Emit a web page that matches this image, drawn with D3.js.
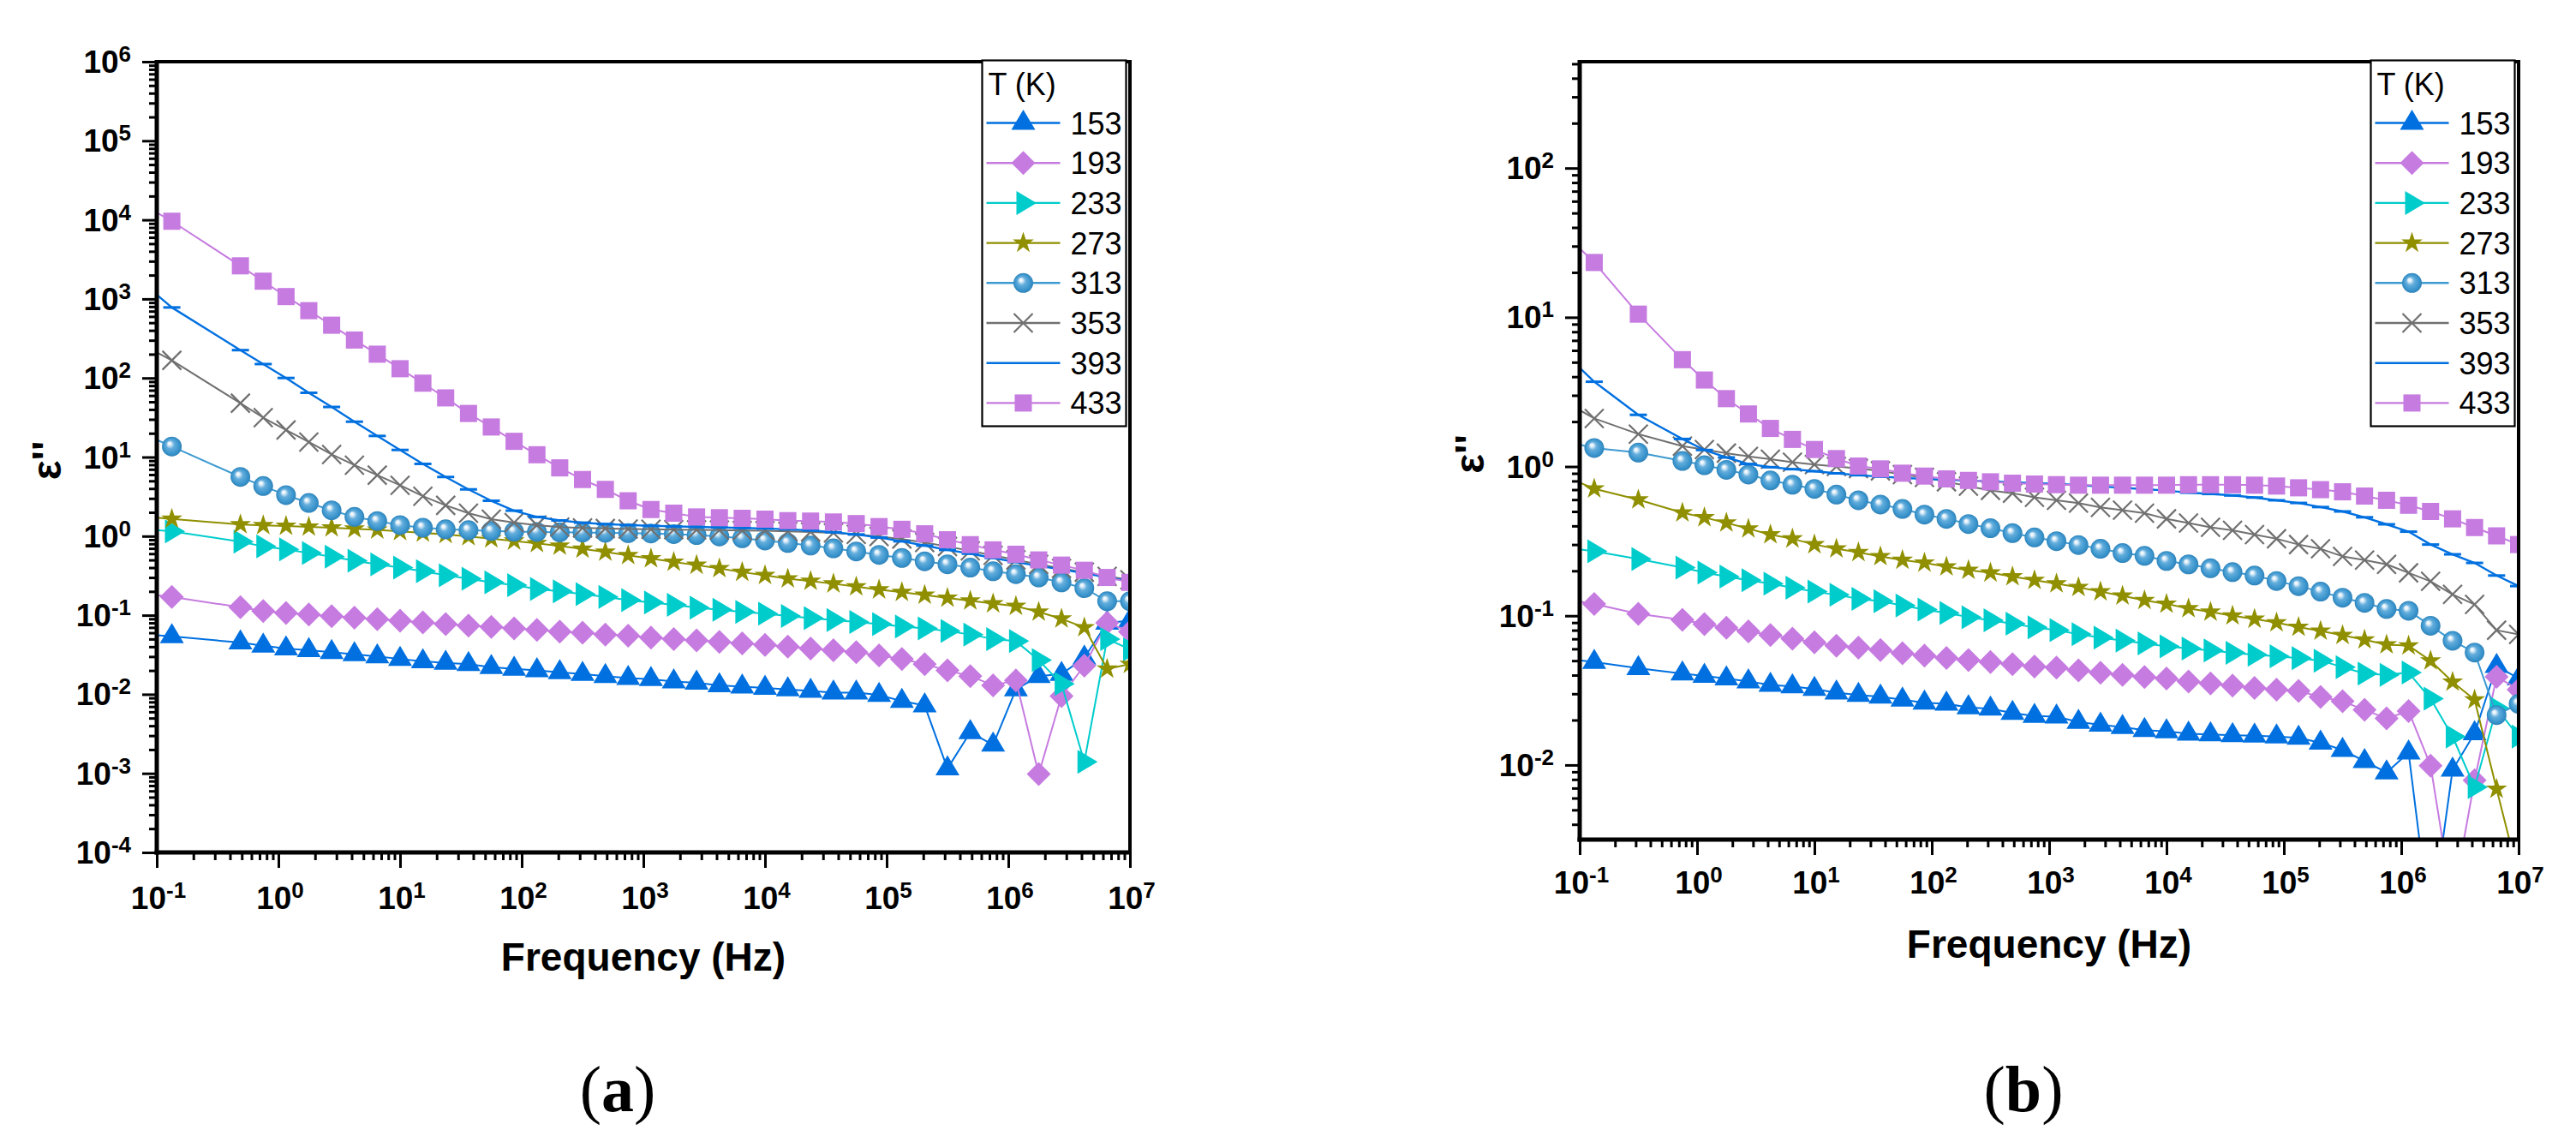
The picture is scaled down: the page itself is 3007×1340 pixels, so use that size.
<!DOCTYPE html>
<html><head><meta charset="utf-8">
<script src="https://cdn.jsdelivr.net/npm/d3@7"></script>
<style>html,body{margin:0;padding:0;background:#fff;} svg{display:block;}</style>
</head><body>
<svg id="chart" width="3007" height="1340"></svg>
<script>
// ---------- data ----------
const temps = ["153","193","233","273","313","353","393","433"];
const colors = ["#0070e0","#c67be0","#00cccc","#8f8f00","#3d9ad1","#707070","#0070e0","#c67be0"];
const symbols = ["triUp","diamond","triRight","star","sphere","cross","dash","square"];

const freqA = [0.07,0.133,0.487,0.75,1.155,1.778,2.738,4.217,6.494,10,15.4,23.71,36.52,56.23,86.6,133.4,205.4,316.2,487,750,1155,1778,2738,4217,6494,1e4,1.54e4,2.371e4,3.652e4,5.623e4,8.66e4,1.334e5,2.054e5,3.162e5,4.87e5,7.499e5,1.155e6,1.778e6,2.738e6,4.217e6,6.494e6,1e7];
const freqB = [0.07,0.133,0.316,0.75,1.155,1.778,2.738,4.217,6.494,10,15.4,23.71,36.52,56.23,86.6,133.4,205.4,316.2,487,750,1155,1778,2738,4217,6494,1e4,1.54e4,2.371e4,3.652e4,5.623e4,8.66e4,1.334e5,2.054e5,3.162e5,4.87e5,7.499e5,1.155e6,1.778e6,2.738e6,4.217e6,6.494e6,1e7];

const a153 = [0.058,0.054,0.045,0.041,0.038,0.036,0.034,0.032,0.030,0.028,0.026,0.025,0.024,0.022,0.021,0.020,0.019,0.018,0.017,0.016,0.0155,0.0145,0.014,0.013,0.0125,0.012,0.0115,0.011,0.0105,0.0105,0.0098,0.0082,0.0072,0.00115,0.0033,0.0023,0.0115,0.017,0.018,0.029,0.08,0.085];
const a193 = [0.19,0.17,0.126,0.113,0.107,0.102,0.097,0.093,0.089,0.085,0.081,0.077,0.074,0.071,0.068,0.065,0.062,0.060,0.057,0.055,0.052,0.050,0.048,0.046,0.044,0.042,0.040,0.038,0.036,0.034,0.031,0.028,0.024,0.020,0.017,0.013,0.015,0.00098,0.0095,0.023,0.08,0.062];
const a233 = [1.25,1.15,0.85,0.74,0.68,0.61,0.55,0.49,0.44,0.40,0.36,0.32,0.29,0.26,0.24,0.215,0.20,0.185,0.17,0.155,0.145,0.135,0.125,0.117,0.11,0.105,0.098,0.092,0.087,0.082,0.077,0.072,0.068,0.063,0.057,0.05,0.047,0.027,0.0135,0.0014,0.05,0.037];
const a273 = [1.8,1.65,1.4,1.37,1.34,1.31,1.28,1.24,1.2,1.15,1.1,1.05,0.99,0.93,0.87,0.81,0.75,0.69,0.63,0.57,0.52,0.47,0.43,0.39,0.35,0.32,0.29,0.27,0.25,0.23,0.21,0.195,0.18,0.165,0.152,0.14,0.13,0.11,0.09,0.07,0.021,0.024];
const a313 = [21,13.6,5.6,4.3,3.3,2.63,2.12,1.75,1.55,1.38,1.28,1.22,1.19,1.16,1.14,1.13,1.12,1.11,1.10,1.09,1.08,1.06,1.03,0.99,0.94,0.88,0.82,0.76,0.70,0.64,0.58,0.53,0.48,0.44,0.40,0.36,0.33,0.30,0.26,0.22,0.15,0.15];
const a353 = [280,167,48,31.5,22,15.5,10.8,7.9,5.9,4.4,3.2,2.45,1.95,1.64,1.48,1.38,1.3,1.27,1.25,1.23,1.22,1.21,1.2,1.19,1.18,1.17,1.15,1.13,1.1,1.05,0.99,0.92,0.83,0.74,0.65,0.57,0.5,0.44,0.39,0.35,0.31,0.28];
const a393 = [1800,780,225,150,100,65,43,28,18.5,12.3,8.2,5.6,3.9,2.8,2.1,1.75,1.58,1.48,1.42,1.38,1.35,1.33,1.31,1.29,1.27,1.25,1.22,1.18,1.12,1.05,0.96,0.86,0.76,0.67,0.6,0.53,0.47,0.42,0.38,0.34,0.3,0.27];
const a433 = [17000,9600,2620,1675,1070,710,465,302,200,131,86,56,35.6,24,15.8,10.7,7.3,5.2,3.9,2.8,2.17,1.95,1.75,1.71,1.68,1.64,1.57,1.55,1.51,1.44,1.32,1.22,1.07,0.90,0.78,0.67,0.59,0.50,0.43,0.37,0.30,0.26];

const b153 = [0.052,0.049,0.0445,0.041,0.0395,0.038,0.0363,0.0344,0.0336,0.0323,0.0305,0.0294,0.0287,0.0274,0.0261,0.0257,0.0243,0.0238,0.0223,0.0213,0.0211,0.0194,0.0186,0.0179,0.0171,0.0168,0.0162,0.016,0.0158,0.0157,0.0155,0.0152,0.0141,0.0126,0.0106,0.0089,0.0121,0.0008,0.0093,0.0163,0.046,0.038];
const b193 = [0.13,0.12,0.103,0.094,0.088,0.083,0.0785,0.0742,0.0703,0.0664,0.063,0.0611,0.059,0.056,0.054,0.0521,0.0505,0.049,0.0473,0.0457,0.0449,0.043,0.0415,0.0401,0.0388,0.038,0.0363,0.0352,0.034,0.0328,0.032,0.0313,0.0286,0.0267,0.0234,0.0205,0.023,0.0099,0.0012,0.0079,0.039,0.032];
const b233 = [0.29,0.27,0.24,0.21,0.195,0.183,0.173,0.164,0.154,0.145,0.138,0.13,0.125,0.117,0.11,0.1045,0.0978,0.0933,0.0885,0.0835,0.08,0.0752,0.0713,0.0682,0.0653,0.0624,0.0603,0.0585,0.0565,0.0548,0.0535,0.052,0.05,0.0453,0.041,0.0402,0.0416,0.0278,0.0155,0.0071,0.024,0.0155];
const b273 = [0.88,0.71,0.6,0.49,0.455,0.42,0.383,0.35,0.328,0.3,0.281,0.266,0.25,0.236,0.226,0.213,0.202,0.194,0.183,0.173,0.164,0.155,0.145,0.136,0.127,0.12,0.112,0.106,0.1,0.095,0.09,0.084,0.079,0.074,0.069,0.064,0.063,0.05,0.036,0.0274,0.0069,0.0018];
const b313 = [1.5,1.33,1.24,1.09,1.02,0.95,0.883,0.807,0.755,0.708,0.648,0.594,0.556,0.52,0.476,0.446,0.412,0.386,0.358,0.335,0.316,0.298,0.281,0.263,0.252,0.233,0.221,0.208,0.196,0.186,0.171,0.158,0.145,0.132,0.122,0.111,0.108,0.0857,0.068,0.0567,0.0216,0.0257];
const b353 = [2.8,2.1,1.65,1.37,1.3,1.23,1.17,1.12,1.07,1.03,1.0,0.97,0.935,0.883,0.845,0.79,0.739,0.692,0.663,0.621,0.594,0.569,0.532,0.51,0.487,0.446,0.418,0.391,0.374,0.35,0.328,0.3,0.281,0.25,0.236,0.221,0.194,0.17,0.139,0.119,0.08,0.075];
const b393 = [6.0,3.7,2.22,1.53,1.29,1.15,1.04,0.99,0.96,0.93,0.9,0.875,0.855,0.84,0.825,0.815,0.805,0.795,0.785,0.775,0.765,0.75,0.735,0.72,0.705,0.69,0.668,0.655,0.64,0.62,0.594,0.57,0.535,0.5,0.457,0.41,0.366,0.30,0.258,0.226,0.186,0.158];
const b433 = [38,23.3,10.5,5.2,3.8,2.85,2.25,1.8,1.52,1.3,1.13,1.007,0.964,0.902,0.863,0.826,0.807,0.79,0.773,0.763,0.756,0.75,0.75,0.75,0.75,0.75,0.755,0.755,0.755,0.75,0.74,0.72,0.70,0.677,0.634,0.594,0.55,0.50,0.446,0.39,0.343,0.30];

const xTickExps = [-1,0,1,2,3,4,5,6,7];
const yTickExpsA = [-4,-3,-2,-1,0,1,2,3,4,5,6];
const yTickExpsB = [-2,-1,0,1,2];
const xTitle = "Frequency (Hz)";
const yTitle = "\u03b5''";
const legendTitle = "T (K)";
const captions = ["a","b"];

// ---------- drawing ----------
const svg = d3.select("#chart");
svg.append("rect").attr("width",3007).attr("height",1340).attr("fill","#fff");
const defs = svg.append("defs");
const grad = defs.append("radialGradient").attr("id","sphereGrad")
  .attr("cx","0.5").attr("cy","0.5").attr("r","0.5").attr("fx","0.36").attr("fy","0.33");
[[0,"#ffffff"],[0.16,"#e4f1fa"],[0.42,"#63addc"],[0.8,"#3a95cd"],[1,"#2f82b8"]].forEach(s=>
  grad.append("stop").attr("offset",s[0]).attr("stop-color",s[1]));

const SANS = "'Liberation Sans', Arial, sans-serif";

function drawSymbol(g, type, color) {
  switch (type) {
    case "triUp": g.append("path").attr("d","M0,-15.5L14,8L-14,8Z").attr("fill",color); break;
    case "diamond": g.append("path").attr("d","M0,-14L14,0L0,14L-14,0Z").attr("fill",color); break;
    case "triRight": g.append("path").attr("d","M-8,-14L15.5,0L-8,14Z").attr("fill",color); break;
    case "star": g.append("path").attr("d", d3.symbol(d3.symbolStar, 190)()).attr("fill",color); break;
    case "sphere": g.append("circle").attr("r",11.5).attr("fill","url(#sphereGrad)"); break;
    case "cross": g.append("path").attr("d","M-11,-11L11,11M-11,11L11,-11").attr("stroke",color).attr("stroke-width",2.2).attr("fill","none"); break;
    case "dash": g.append("path").attr("d","M-10,0H10").attr("stroke",color).attr("stroke-width",3); break;
    case "square": g.append("rect").attr("x",-10).attr("y",-10).attr("width",20).attr("height",20).attr("fill",color); break;
  }
}

function supLabel(sel, e) {
  sel.append("tspan").text("10");
  sel.append("tspan").attr("dy",-13).attr("font-size",26).text(String(e));
}

function makePanel(cfg) {
  const x = d3.scaleLog().domain([0.1,1e7]).range([cfg.left,cfg.right]);
  const y = d3.scaleLog().domain(cfg.yDomain).range([cfg.bottom,cfg.top]);
  const g = svg.append("g");
  const clipId = "clip" + cfg.id;
  defs.append("clipPath").attr("id",clipId).append("rect")
    .attr("x",cfg.left).attr("y",cfg.top).attr("width",cfg.right-cfg.left).attr("height",cfg.bottom-cfg.top);
  const plot = g.append("g").attr("clip-path",`url(#${clipId})`);
  const line = d3.line().x(d=>x(d[0])).y(d=>y(d[1]));

  cfg.series.forEach((vals,i)=>{
    const pts = cfg.freq.map((f,j)=>[f, vals[j]]);
    const sg = plot.append("g");
    sg.append("path").datum(pts).attr("d",line).attr("fill","none")
      .attr("stroke",colors[i]).attr("stroke-width", i===6 ? 2.4 : 2).attr("stroke-linejoin","round");
    sg.selectAll("g.m").data(pts).join("g").attr("class","m")
      .attr("transform",d=>`translate(${x(d[0])},${y(d[1])})`)
      .each(function(){ drawSymbol(d3.select(this), symbols[i], colors[i]); });
  });

  // minor / major ticks
  const minorX = [];
  for (let e=-1;e<7;e++) for (let k=2;k<10;k++) minorX.push(k*Math.pow(10,e));
  const [y0,y1] = cfg.yDomain;
  const minorY = [];
  for (let e=Math.floor(Math.log10(y0)); e<Math.ceil(Math.log10(y1)); e++)
    for (let k=2;k<10;k++){ const v=k*Math.pow(10,e); if (v>=y0 && v<=y1) minorY.push(v); }

  const styleAxis = s => { s.select(".domain").remove(); s.selectAll("line").attr("stroke","#000").attr("stroke-width",3); };
  g.append("g").attr("transform",`translate(0,${cfg.bottom})`)
    .call(d3.axisBottom(x).tickValues(minorX).tickSize(9).tickFormat("")).call(styleAxis);
  g.append("g").attr("transform",`translate(0,${cfg.bottom})`)
    .call(d3.axisBottom(x).tickValues(xTickExps.map(e=>Math.pow(10,e))).tickSize(18).tickFormat("")).call(styleAxis);
  g.append("g").attr("transform",`translate(${cfg.left},0)`)
    .call(d3.axisLeft(y).tickValues(minorY).tickSize(9).tickFormat("")).call(styleAxis);
  g.append("g").attr("transform",`translate(${cfg.left},0)`)
    .call(d3.axisLeft(y).tickValues(cfg.yExps.map(e=>Math.pow(10,e))).tickSize(17).tickFormat("")).call(styleAxis);

  // frame
  g.append("line").attr("x1",cfg.left).attr("x2",cfg.right).attr("y1",cfg.top).attr("y2",cfg.top).attr("stroke","#000").attr("stroke-width",4);
  g.append("line").attr("x1",cfg.right).attr("x2",cfg.right).attr("y1",cfg.top-2).attr("y2",cfg.bottom+2).attr("stroke","#000").attr("stroke-width",4);
  g.append("line").attr("x1",cfg.left-2.5).attr("x2",cfg.right+2).attr("y1",cfg.bottom).attr("y2",cfg.bottom).attr("stroke","#000").attr("stroke-width",5);
  g.append("line").attr("x1",cfg.left).attr("x2",cfg.left).attr("y1",cfg.top-2).attr("y2",cfg.bottom+2.5).attr("stroke","#000").attr("stroke-width",5);

  // tick labels
  g.selectAll("text.xl").data(xTickExps).join("text").attr("class","xl")
    .attr("x",e=>x(Math.pow(10,e))+2).attr("y",cfg.bottom+cfg.xLabOff)
    .attr("text-anchor","middle").attr("font-family",SANS).attr("font-weight","bold").attr("font-size",37)
    .each(function(e){ supLabel(d3.select(this), e); });
  g.selectAll("text.yl").data(cfg.yExps).join("text").attr("class","yl")
    .attr("x",cfg.left-30).attr("y",e=>y(Math.pow(10,e))+13)
    .attr("text-anchor","end").attr("font-family",SANS).attr("font-weight","bold").attr("font-size",37)
    .each(function(e){ supLabel(d3.select(this), e); });

  // axis titles
  const cx = (cfg.left+cfg.right)/2;
  g.append("text").attr("x",cx).attr("y",cfg.bottom+138).attr("text-anchor","middle")
    .attr("font-family",SANS).attr("font-weight","bold").attr("font-size",46).text(xTitle);
  g.append("text").attr("transform",`translate(${cfg.left-112},${(cfg.top+cfg.bottom)/2+4}) rotate(-90)`)
    .attr("text-anchor","middle").attr("font-family",SANS).attr("font-weight","bold").attr("font-size",48).text(yTitle);

  // caption
  const cap = g.append("text").attr("x",cx-30).attr("y",1297).attr("text-anchor","middle")
    .attr("font-family","'Palatino Linotype','Book Antiqua',Palatino,'Liberation Serif','DejaVu Serif',serif").attr("font-size",76);
  cap.append("tspan").text("(");
  cap.append("tspan").attr("font-weight","bold").text(cfg.caption);
  cap.append("tspan").text(")");

  // legend
  const lw = 168, lx = cfg.right-4.5-lw, ly = cfg.top-1.5, rowH = 46.7;
  const lg = g.append("g").attr("transform",`translate(${lx},${ly})`);
  lg.append("rect").attr("width",lw).attr("height",427).attr("fill","#fff").attr("stroke","#000").attr("stroke-width",2.2);
  lg.append("text").attr("x",7).attr("y",40).attr("font-family",SANS).attr("font-size",36).text(legendTitle);
  temps.forEach((t,i)=>{
    const cy = 73 + i*rowH;
    lg.append("line").attr("x1",5).attr("x2",91).attr("y1",cy).attr("y2",cy).attr("stroke",colors[i]).attr("stroke-width",2.4);
    if (symbols[i] !== "dash") drawSymbol(lg.append("g").attr("transform",`translate(48,${cy})`), symbols[i], colors[i]);
    lg.append("text").attr("x",103).attr("y",cy+13).attr("font-family",SANS).attr("font-size",36).text(t);
  });
}

makePanel({id:"A", left:183, right:1319, top:72, bottom:995, yDomain:[1e-4,1e6], yExps:yTickExpsA,
  freq:freqA, series:[a153,a193,a233,a273,a313,a353,a393,a433], xLabOff:66, caption:captions[0]});
makePanel({id:"B", left:1844, right:2940, top:72, bottom:980, yDomain:[Math.pow(10,-2.5),Math.pow(10,2.713)], yExps:yTickExpsB,
  freq:freqB, series:[b153,b193,b233,b273,b313,b353,b393,b433], xLabOff:63, caption:captions[1]});
</script>
</body></html>
